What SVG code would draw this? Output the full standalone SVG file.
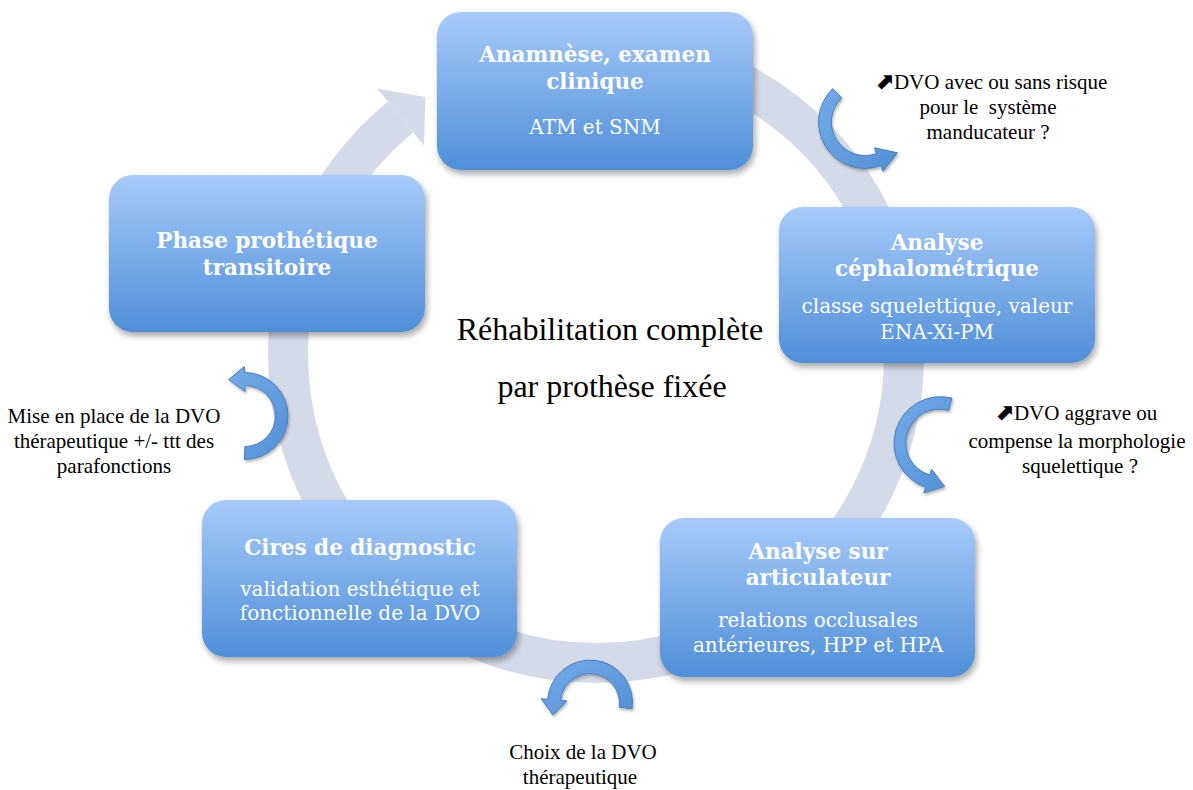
<svg xmlns="http://www.w3.org/2000/svg" width="1193" height="790" viewBox="0 0 1193 790">
<defs>
<linearGradient id="boxg" x1="0" y1="0" x2="0" y2="1">
<stop offset="0" stop-color="#A7CAFA"/>
<stop offset="1" stop-color="#4F8FD8"/>
</linearGradient>
<linearGradient id="arrg" x1="0" y1="0" x2="1" y2="1">
<stop offset="0" stop-color="#74ABE8"/>
<stop offset="1" stop-color="#5290D6"/>
</linearGradient>
<filter id="sh" x="-10%" y="-10%" width="125%" height="130%">
<feDropShadow dx="2" dy="4" stdDeviation="3" flood-color="#000" flood-opacity="0.35"/>
</filter>
<filter id="sh2" x="-20%" y="-20%" width="150%" height="150%">
<feDropShadow dx="1" dy="2" stdDeviation="1.5" flood-color="#000" flood-opacity="0.3"/>
</filter>
<style>
.box{fill:url(#boxg);filter:url(#sh)}
.t{font-family:"DejaVu Serif","Liberation Serif",serif;font-weight:bold;font-size:21.5px;fill:#fff;text-anchor:middle}
.s{font-family:"DejaVu Serif","Liberation Serif",serif;font-size:20px;fill:#fff;text-anchor:middle}
.a{font-family:"Liberation Serif","Times New Roman",serif;font-size:21px;fill:#000;text-anchor:middle;white-space:pre}
.c{font-family:"Liberation Serif","Times New Roman",serif;font-size:32px;fill:#000;text-anchor:middle}
.ar{fill:url(#arrg);stroke:#4A7EBB;stroke-width:1;filter:url(#sh2)}
.ne{font-family:"DejaVu Sans",sans-serif;font-size:23px;font-weight:bold}
</style>
</defs>
<rect width="1193" height="790" fill="#fff"/>
<g id="connectors">
<g id="cycle">
<path d="M470.7,73.6 A308,308 0 1 1 400.5,117" fill="none" stroke="#D5DAE9" stroke-width="40"/>
<polygon points="377,88.4 425.4,97 424,145.6" fill="#D5DAE9"/>
</g>
</g>
<g id="n1"><rect class="box" x="437" y="12" width="316" height="158" rx="24"/>
<text class="t" x="595" y="62">Anamnèse, examen</text>
<text class="t" x="595" y="89">clinique</text>
<text class="s" x="595" y="134">ATM et SNM</text></g>
<g id="n2"><rect class="box" x="779" y="207" width="316" height="156" rx="24"/>
<text class="t" x="937" y="250">Analyse</text>
<text class="t" x="937" y="276">céphalométrique</text>
<text class="s" x="937" y="313">classe squelettique, valeur</text>
<text class="s" x="937" y="339">ENA-Xi-PM</text></g>
<g id="n3"><rect class="box" x="660" y="518" width="315" height="159" rx="24"/>
<text class="t" x="818" y="559">Analyse sur</text>
<text class="t" x="818" y="585">articulateur</text>
<text class="s" x="818" y="627">relations occlusales</text>
<text class="s" x="818" y="652">antérieures, HPP et HPA</text></g>
<g id="n4"><rect class="box" x="202" y="500" width="315" height="157" rx="24"/>
<text class="t" x="360" y="555">Cires de diagnostic</text>
<text class="s" x="360" y="596">validation esthétique et</text>
<text class="s" x="360" y="620">fonctionnelle de la DVO</text></g>
<g id="n5"><rect class="box" x="109" y="175" width="316" height="157" rx="24"/>
<text class="t" x="267" y="248">Phase prothétique</text>
<text class="t" x="267" y="275">transitoire</text></g>
<g id="center">
<text class="c" x="610" y="340">Réhabilitation complète</text>
<text class="c" x="612" y="397">par prothèse fixée</text>
</g>
<g id="side-arrows">
<path class="ar" d="M832.7,88.6 A46.5,46.5 0 0 0 880.9,165.7 L883.0,171.3 L897.5,152.8 L874.4,147.8 L876.5,153.5 A33.5,33.5 0 0 1 841.7,97.9 Z"/>
<path class="ar" d="M952.0,398.1 A46.5,46.5 0 0 0 925.6,487.2 L923.8,492.9 L944.7,486.6 L931.5,469.2 L929.6,474.9 A33.5,33.5 0 0 1 948.7,410.6 Z"/>
<path class="ar" d="M244.5,459.5 A43.5,43.5 0 1 0 244.5,372.5 L244.3,366.5 L228.7,379.6 L245.1,391.5 L244.9,385.5 A30.5,30.5 0 1 1 244.9,446.5 Z"/>
<path class="ar" d="M632.1,708.9 A42.5,42.5 0 1 0 547.7,699.3 L541.2,698.7 L552.8,714.8 L567.1,701.0 L560.6,700.4 A29.5,29.5 0 1 1 619.2,707.1 Z"/>
</g>
<g id="labels">
<text class="a" x="991" y="89"><tspan class="ne">⬈</tspan>DVO avec ou sans risque</text>
<text class="a" x="988" y="114">pour le  système</text>
<text class="a" x="988" y="139">manducateur ?</text>
<text class="a" x="1076" y="420"><tspan class="ne">⬈</tspan>DVO aggrave ou</text>
<text class="a" x="1077" y="448">compense la morphologie</text>
<text class="a" x="1080" y="473">squelettique ?</text>
<text class="a" x="114" y="423">Mise en place de la DVO</text>
<text class="a" x="114" y="448">thérapeutique +/- ttt des</text>
<text class="a" x="114" y="473">parafonctions</text>
<text class="a" x="583" y="759">Choix de la DVO</text>
<text class="a" x="580" y="784">thérapeutique</text>
</g>
</svg>
